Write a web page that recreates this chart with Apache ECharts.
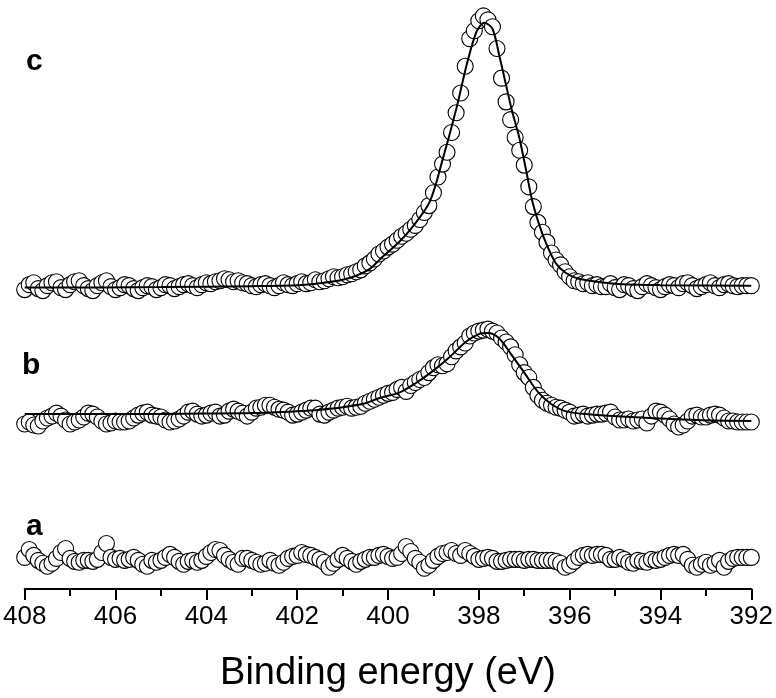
<!DOCTYPE html>
<html>
<head>
<meta charset="utf-8">
<script src="https://cdn.jsdelivr.net/npm/echarts@6/dist/echarts.min.js"></script>
<style>
  html, body { margin: 0; padding: 0; background: #fff; }
  #chart { width: 776px; height: 698px; }
</style>
</head>
<body>
<div id="chart"></div>
<script>
// N 1s spectra, measured every 0.1 eV from 408 to 392 eV
const energyStart = 408;
const energyStep = 0.1;

// vertical offsets of the stacked spectra (arb. units)
const offsets = { a: 6.0, b: 35.0, c: 61.0 };

// spectrum a : no nitrogen signal
const aRaw = [
    0.4, 2.0, 0.8, -0.2, -0.8, -1.4, -0.8, 0.2, 1.4, 2.2,
    0.2, -0.4, -0.6, -0.2, -0.2, -0.4, 0, 1.4, 3.2, 0.4,
    0, 0.2, -0.2, 0, 0.4, -0.2, -1.0, -1.4, -0.2, -0.6,
    -0.2, 0.4, 1.0, 0.4, -0.4, -1.0, -0.4, -0.2, -0.6, -0.2,
    0.6, 1.4, 2.0, 1.8, 0.8, 0, -0.6, -1.0, 0.2, 0.2,
    -0.2, -0.6, -1.0, -0.8, -0.2, -0.8, -1.2, -0.6, 0.2, 0.6,
    0.8, 1.4, 1.0, 0.8, 0.4, 0, -0.6, -1.6, -0.8, 0,
    0.8, 0.2, -0.4, -1.0, -0.4, 0, 0.4, 0.4, 0.8, 1.0,
    0.6, 0.2, 0.4, 1.2, 2.6, 1.6, 0.2, -0.6, -1.8, -1.2,
    -0.2, 0.6, 1.2, 1.4, 1.8, 1.2, 0.8, 1.8, 1.2, 0.6,
    0, 0.2, 0.4, 0.2, -0.4, -0.4, -0.2, 0, 0, 0,
    -0.2, 0, 0, -0.2, -0.2, -0.2, -0.2, -0.4, -0.8, -1.6,
    -1.2, -0.4, 0.4, 0.8, 1.0, 0.8, 1.0, 1.0, 0.8, 0,
    0, 0.4, 0, -0.6, -0.8, -0.2, -0.4, -0.6, 0, -0.2,
    0, 0.4, 0.8, 1.0, 0.8, 1.0, 0, -1.2, -1.6, -1.0,
    -0.6, -1.2, -0.8, -0.2, -1.6, -0.4, 0.2, 0.4, 0.4, 0.4, 0.4
];

// spectrum b : weak peak
const bRaw = [
    -1.6, -1.2, -1.8, -2.0, -1.0, -0.4, 0, 0.6, 0, -0.8,
    -1.6, -1.2, -0.8, -0.2, 0.6, 0.4, -0.2, -1.0, -1.6, -1.4,
    -1.0, -1.2, -1.2, -1.0, -0.4, 0.2, 0.6, 0.8, 0.2, 0,
    -0.2, -0.8, -1.2, -1.0, -0.6, 0, 0.8, 1.0, 0.4, 0,
    0.2, 0.6, 0.8, 0, 0.2, 1.0, 1.4, 1.0, 0.6, 0,
    0.8, 1.6, 1.8, 2.2, 2.2, 1.8, 1.4, 1.2, 0.8, 0.2,
    0.4, 0.8, 1.2, 1.6, 1.6, 0.4, 0.2, 0.8, 1.2, 1.6,
    1.8, 2.0, 1.6, 1.8, 2.0, 2.6, 3.0, 3.4, 3.8, 4.2,
    4.6, 4.8, 5.4, 5.8, 5.0, 6.2, 6.8, 7.4, 7.8, 8.8,
    9.8, 10.4, 10.2, 10.6, 12.0, 13.2, 14.0, 14.8, 16.2, 16.8,
    17.2, 17.4, 17.6, 17.2, 16.8, 15.8, 15.0, 14.0, 12.4, 10.4,
    8.8, 7.8, 5.8, 4.2, 3.2, 2.6, 2.2, 1.8, 1.6, 1.2,
    0.8, 0, 0.2, 0.4, 0, 0.2, 0.4, 0.4, 0.6, 0.8,
    -0.2, -0.8, -0.8, -0.6, -1.0, -0.8, -0.6, -1.4, 0, 1.0,
    0.8, 0.2, -0.6, -1.6, -2.2, -1.8, -1.0, 0, 0.2, -0.2,
    -0.2, 0.2, 0.4, 0.2, -0.4, -1.0, -1.0, -1.2, -1.2, -1.2, -1.2
];

// spectrum c : strong peak near 397.9 eV
const cRaw = [
    -0.4, 0.6, 1.0, -0.2, -0.6, 0.4, 1.0, 1.2, 0, -0.4,
    0.6, 1.2, 1.4, 0.4, -0.2, -0.6, 0.4, 1.0, 1.4, 0.2,
    -0.4, 0, 0.6, 0.4, -0.2, -0.6, 0, 0.4, 0.2, -0.4,
    0, 0.6, 0.4, -0.2, 0.2, 0.6, 0.8, 0.4, 0, 0.6,
    1.0, 0.8, 1.2, 1.4, 1.8, 1.6, 1.2, 1.4, 1.0, 0.8,
    0.4, 0.2, 0.6, 0.8, 0.4, 0, 0.4, 1.0, 0.6, 0.4,
    0.8, 1.2, 0.8, 1.0, 1.6, 1.2, 1.4, 1.8, 2.2, 2.0,
    2.2, 2.6, 2.8, 3.2, 3.6, 4.4, 5.0, 5.8, 6.8, 7.4,
    8.2, 8.8, 9.6, 10.4, 11.0, 11.8, 12.6, 13.8, 15.2, 16.6,
    19.2, 22.4, 25.0, 27.4, 31.4, 35.4, 39.4, 44.8, 50.4, 52.0,
    54.0, 55.0, 54.2, 52.8, 48.4, 42.4, 37.6, 34.0, 30.4, 27.8,
    24.8, 20.4, 16.4, 13.2, 11.2, 9.2, 7.0, 5.6, 4.6, 3.2,
    2.2, 1.4, 1.2, 0.8, 1.0, 0.4, 0.6, 0.2,
    0.2, 0.8, 0, -0.4, 0.6, 0.4, -0.2, -0.6, 0.2, 0.8, 0.4, 0,
    -0.4, 0.2, 0.6, 0.4, 0, 0.8, 1.0, 0.4, -0.2, 0.2,
    0.6, 1.0, 0.4, 0, 0.6, 0.8, 0.4, 0.2, 0.4, 0.4, 0.4
];

// fitted envelopes
const fitBEnergy = [408, 406, 404, 403, 402, 401.5, 401, 400.5, 400.2, 399.74, 399.4, 399.03, 398.66, 398.29, 398.0, 397.8, 397.56, 397.28, 396.97, 396.69, 396.4, 396.1, 395.65, 394.65, 393.18, 392];
const fitB = [0.4, 0.4, 0.5, 0.6, 1.0, 1.3, 1.8, 2.6, 3.6, 4.8, 6.6, 9.0, 11.8, 15.0, 16.6, 16.8, 15.8, 12.4, 8.4, 4.8, 2.4, 1.0, 0.4, -0.2, -0.8, -1.0];
const fitCEnergy = [408, 405, 403, 402, 401.5, 401, 400.7, 400.4, 400.17, 399.74, 399.45, 399.08, 398.8, 398.49, 398.27, 398.05, 397.88, 397.7, 397.55, 397.4, 397.27, 397.11, 396.96, 396.83, 396.68, 396.52, 396.31, 396.09, 395.8, 395, 394, 392];
const fitC = [0, 0.1, 0.3, 0.5, 0.9, 1.6, 2.4, 3.8, 5.8, 9.4, 12.4, 17.4, 25.8, 36.4, 45.0, 51.8, 53.6, 52.4, 47.0, 41.0, 35.8, 30.4, 23.8, 17.8, 13.0, 9.0, 5.0, 3.0, 1.8, 0.8, 0.5, 0.4];

const panelLabels = ['a', 'b', 'c'];

function toPoints(raw, offset) {
    return raw.map((v, i) => [+(energyStart - i * energyStep).toFixed(1), v + offset]);
}
function fitPoints(energies, values, offset) {
    return energies.map((e, i) => [e, values[i] + offset]);
}

function scatterSeries(name, data) {
    return {
        name: name,
        type: 'scatter',
        data: data,
        symbol: 'circle',
        symbolSize: 16,
        itemStyle: { color: '#ffffff', borderColor: '#000000', borderWidth: 1.1, opacity: 1 },
        silent: true,
        z: 2
    };
}
function fitSeries(name, data) {
    return {
        name: name,
        type: 'line',
        data: data,
        showSymbol: false,
        smooth: 0.3,
        lineStyle: { color: '#000000', width: 2 },
        silent: true,
        z: 3
    };
}

const chart = echarts.init(document.getElementById('chart'));

const option = {
    backgroundColor: '#ffffff',
    animation: false,
    title: [
        { text: panelLabels[2], left: 21, top: 42 },
        { text: panelLabels[1], left: 17, top: 346 },
        { text: panelLabels[0], left: 21, top: 507 }
    ].map(t => Object.assign(t, {
        textStyle: { fontFamily: 'Liberation Sans', fontWeight: 'bold', fontSize: 30, color: '#000' }
    })),
    grid: { left: 22, right: 22, top: 6, bottom: 102, containLabel: false },
    xAxis: {
        type: 'value',
        inverse: true,
        min: 392,
        max: 408,
        interval: 2,
        name: 'Binding energy (eV)',
        nameLocation: 'middle',
        nameGap: 66,
        nameTextStyle: { fontFamily: 'Liberation Sans', fontSize: 38, color: '#000' },
        axisLine: { show: true, onZero: false, lineStyle: { color: '#000', width: 2 } },
        axisTick: { show: true, inside: false, length: 11, lineStyle: { color: '#000', width: 2 } },
        minorTick: { show: true, splitNumber: 2, length: 7, lineStyle: { color: '#000', width: 2 } },
        axisLabel: { fontFamily: 'Liberation Sans', fontSize: 26, color: '#000', margin: 15 },
        splitLine: { show: false }
    },
    yAxis: {
        type: 'value',
        min: 0,
        max: 118,
        show: false
    },
    series: [
        scatterSeries('a', toPoints(aRaw, offsets.a)),
        scatterSeries('b', toPoints(bRaw, offsets.b)),
        scatterSeries('c', toPoints(cRaw, offsets.c)),
        fitSeries('b fit', fitPoints(fitBEnergy, fitB, offsets.b)),
        fitSeries('c fit', fitPoints(fitCEnergy, fitC, offsets.c))
    ]
};

chart.setOption(option);
</script>
</body>
</html>
